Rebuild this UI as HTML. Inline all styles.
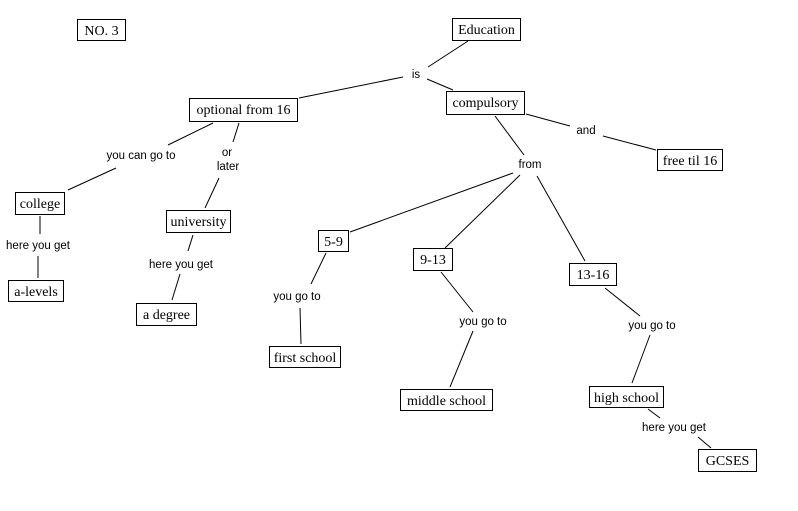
<!DOCTYPE html>
<html><head><meta charset="utf-8"><style>
html,body{margin:0;padding:0;background:#fff;width:798px;height:511px;overflow:hidden}
svg{display:block}
.b{font-family:"Liberation Serif",serif;font-size:14px;fill:#000}
.l{font-family:"Liberation Sans",sans-serif;font-size:11.5px;fill:#000}
rect{fill:#fff;stroke:#000;stroke-width:1}
line{stroke:#000;stroke-width:1}
</style></head><body>
<svg width="798" height="511" viewBox="0 0 798 511">
<g>
<line x1="468" y1="41" x2="428" y2="67"/>
<line x1="427" y1="79" x2="453" y2="90"/>
<line x1="403" y1="77" x2="299" y2="98"/>
<line x1="213" y1="123" x2="168" y2="145"/>
<line x1="239" y1="123" x2="233" y2="142"/>
<line x1="219" y1="178" x2="205" y2="208"/>
<line x1="116" y1="168" x2="68" y2="190"/>
<line x1="40" y1="216" x2="40" y2="234"/>
<line x1="38" y1="256" x2="38" y2="278"/>
<line x1="193" y1="235" x2="188" y2="251"/>
<line x1="180" y1="274" x2="172" y2="300"/>
<line x1="526" y1="114" x2="570" y2="126"/>
<line x1="603" y1="136" x2="656" y2="150"/>
<line x1="495" y1="116" x2="524" y2="155"/>
<line x1="513" y1="173" x2="350" y2="232"/>
<line x1="520" y1="175" x2="445" y2="248"/>
<line x1="537" y1="176" x2="585" y2="261"/>
<line x1="326" y1="253" x2="311" y2="284"/>
<line x1="300" y1="308" x2="301" y2="344"/>
<line x1="441" y1="272" x2="473" y2="312"/>
<line x1="473" y1="331" x2="450" y2="387"/>
<line x1="605" y1="288" x2="640" y2="316"/>
<line x1="650" y1="335" x2="632" y2="383"/>
<line x1="648" y1="409" x2="660" y2="418"/>
<line x1="698" y1="437" x2="711" y2="448"/>
</g>
<rect x="77.5" y="19.5" width="48" height="21"/><text class="b" x="101.5" y="35" text-anchor="middle">NO. 3</text>
<rect x="452.5" y="18.5" width="68" height="22"/><text class="b" x="486.5" y="34" text-anchor="middle">Education</text>
<rect x="189.5" y="98.5" width="108" height="23"/><text class="b" x="243.5" y="114" text-anchor="middle">optional from 16</text>
<rect x="446.5" y="91.5" width="78" height="23"/><text class="b" x="485.5" y="107" text-anchor="middle">compulsory</text>
<rect x="657.5" y="149.5" width="65" height="21"/><text class="b" x="690" y="165" text-anchor="middle">free til 16</text>
<rect x="15.5" y="192.5" width="49" height="22"/><text class="b" x="40" y="208" text-anchor="middle">college</text>
<rect x="166.5" y="210.5" width="64" height="22"/><text class="b" x="198.5" y="226" text-anchor="middle">university</text>
<rect x="318.5" y="230.5" width="30" height="21"/><text class="b" x="333.5" y="246" text-anchor="middle">5-9</text>
<rect x="413.5" y="248.5" width="39" height="22"/><text class="b" x="433" y="264" text-anchor="middle">9-13</text>
<rect x="569.5" y="263.5" width="47" height="22"/><text class="b" x="593" y="279" text-anchor="middle">13-16</text>
<rect x="8.5" y="280.5" width="55" height="21"/><text class="b" x="36" y="296" text-anchor="middle">a-levels</text>
<rect x="136.5" y="303.5" width="60" height="22"/><text class="b" x="166.5" y="319" text-anchor="middle">a degree</text>
<rect x="269.5" y="346.5" width="71" height="21"/><text class="b" x="305" y="362" text-anchor="middle">first school</text>
<rect x="400.5" y="389.5" width="92" height="21"/><text class="b" x="446.5" y="405" text-anchor="middle">middle school</text>
<rect x="589.5" y="386.5" width="74" height="21"/><text class="b" x="626.5" y="402" text-anchor="middle">high school</text>
<rect x="698.5" y="449.5" width="58" height="22"/><text class="b" x="727.5" y="465" text-anchor="middle">GCSES</text>
<text class="l" x="416" y="78" text-anchor="middle">is</text>
<text class="l" x="141" y="159" text-anchor="middle">you can go to</text>
<text class="l" x="227" y="156" text-anchor="middle">or</text>
<text class="l" x="228" y="170" text-anchor="middle">later</text>
<text class="l" x="530" y="168" text-anchor="middle">from</text>
<text class="l" x="586" y="134" text-anchor="middle">and</text>
<text class="l" x="38" y="249" text-anchor="middle">here you get</text>
<text class="l" x="181" y="268" text-anchor="middle">here you get</text>
<text class="l" x="297" y="300" text-anchor="middle">you go to</text>
<text class="l" x="483" y="325" text-anchor="middle">you go to</text>
<text class="l" x="652" y="329" text-anchor="middle">you go to</text>
<text class="l" x="674" y="431" text-anchor="middle">here you get</text>
</svg>
</body></html>
